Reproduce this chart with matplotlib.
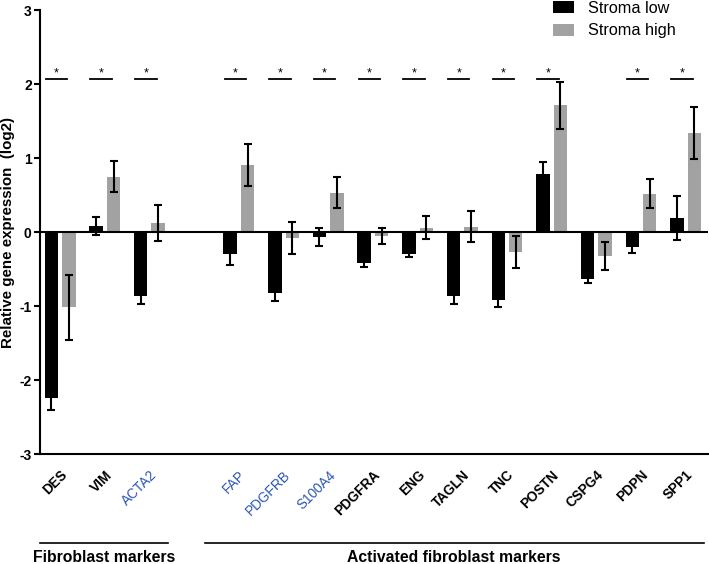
import numpy as np
import matplotlib.pyplot as plt
from matplotlib.transforms import blended_transform_factory

plt.rcParams['font.family'] = ['Liberation Sans', 'DejaVu Sans']

genes = ['DES', 'VIM', 'ACTA2', 'FAP', 'PDGFRB', 'S100A4', 'PDGFRA', 'ENG',
         'TAGLN', 'TNC', 'POSTN', 'CSPG4', 'PDPN', 'SPP1']
slots = [0, 1, 2, 4, 5, 6, 7, 8, 9, 10, 11, 12, 13, 14]
blue_genes = ['ACTA2', 'FAP', 'PDGFRB', 'S100A4']

low = [-2.24, 0.085, -0.86, -0.30, -0.83, -0.07, -0.42, -0.30, -0.87, -0.92, 0.78, -0.63, -0.20, 0.19]
low_err = [0.17, 0.12, 0.11, 0.15, 0.10, 0.12, 0.05, 0.04, 0.10, 0.10, 0.16, 0.06, 0.08, 0.30]
high = [-1.02, 0.75, 0.12, 0.905, -0.08, 0.53, -0.05, 0.06, 0.07, -0.27, 1.71, -0.32, 0.52, 1.34]
high_err = [0.44, 0.21, 0.24, 0.28, 0.22, 0.21, 0.11, 0.16, 0.21, 0.22, 0.32, 0.19, 0.20, 0.35]
signif = [True, True, True, True, True, True, True, True, True, True, True, False, True, True]

groups = [('Fibroblast markers', -0.45, 2.42), ('Activated fibroblast markers', 3.24, 14.4)]

fig = plt.figure(figsize=(7.09, 5.64), dpi=100)
ax = fig.add_axes([40 / 709, 1 - 454 / 564, 668 / 709, 444 / 564])

x = np.array(slots, dtype=float)
w = 0.30
off = 0.195
ekw = dict(elinewidth=1.5, capthick=1.5, ecolor='black', capsize=3, zorder=4)
ax.bar(x - off, low, w, color='black', label='Stroma low', zorder=2)
ax.errorbar(x - off, low, yerr=low_err, fmt='none', **ekw)
ax.bar(x + off, high, w, color='#a2a2a2', label='Stroma high', zorder=2)
ax.errorbar(x + off, high, yerr=high_err, fmt='none', **ekw)

ax.axhline(0, color='black', lw=1.5, zorder=3)

# significance marks
for xi, s in zip(x, signif):
    if s:
        ax.plot([xi - 0.32, xi + 0.16], [2.07, 2.07], color='black', lw=1.3)
        ax.text(xi - 0.08, 2.06, '*', ha='center', va='bottom', fontsize=9)

ax.set_xlim(-0.45, 14.5)
ax.set_ylim(-3, 3)
ax.set_yticks([-3, -2, -1, 0, 1, 2, 3])
ax.set_yticklabels(['-3', '-2', '-1', '0', '1', '2', '3'], fontweight='bold', fontsize=10)
ax.set_ylabel('Relative gene expression  (log2)', fontweight='bold', fontsize=10.9, labelpad=3)

ax.set_xticks(x)
ax.set_xticklabels(genes, rotation=45, ha='right', va='top', rotation_mode='anchor', fontsize=9.8)
for lab in ax.get_xticklabels():
    if lab.get_text() in blue_genes:
        lab.set_color('#2d55b5')
    else:
        lab.set_fontweight('bold')
ax.tick_params(axis='x', length=0, pad=10)
ax.tick_params(axis='y', length=4, width=1.5, pad=2)

for sp in ['top', 'right']:
    ax.spines[sp].set_visible(False)
ax.spines['left'].set_linewidth(1.5)
ax.spines['bottom'].set_linewidth(1.5)

ax.legend(loc='upper left', bbox_to_anchor=(553 / 709, 1 - 1 / 564), bbox_transform=fig.transFigure,
          frameon=False, fontsize=11.7, borderpad=0, borderaxespad=0,
          handlelength=1.3, handleheight=0.74, labelspacing=0.45, handletextpad=0.86)

tr = blended_transform_factory(ax.transData, fig.transFigure)
for name, x0, x1 in groups:
    ax.plot([x0, x1], [1 - 543 / 564] * 2, color='black', lw=1.2, transform=tr, clip_on=False)
    ax.text((x0 + x1) / 2, 1 - 557 / 564, name, transform=tr, ha='center', va='center',
            fontweight='bold', fontsize=11.3)

fig.savefig('out.png', dpi=100)
